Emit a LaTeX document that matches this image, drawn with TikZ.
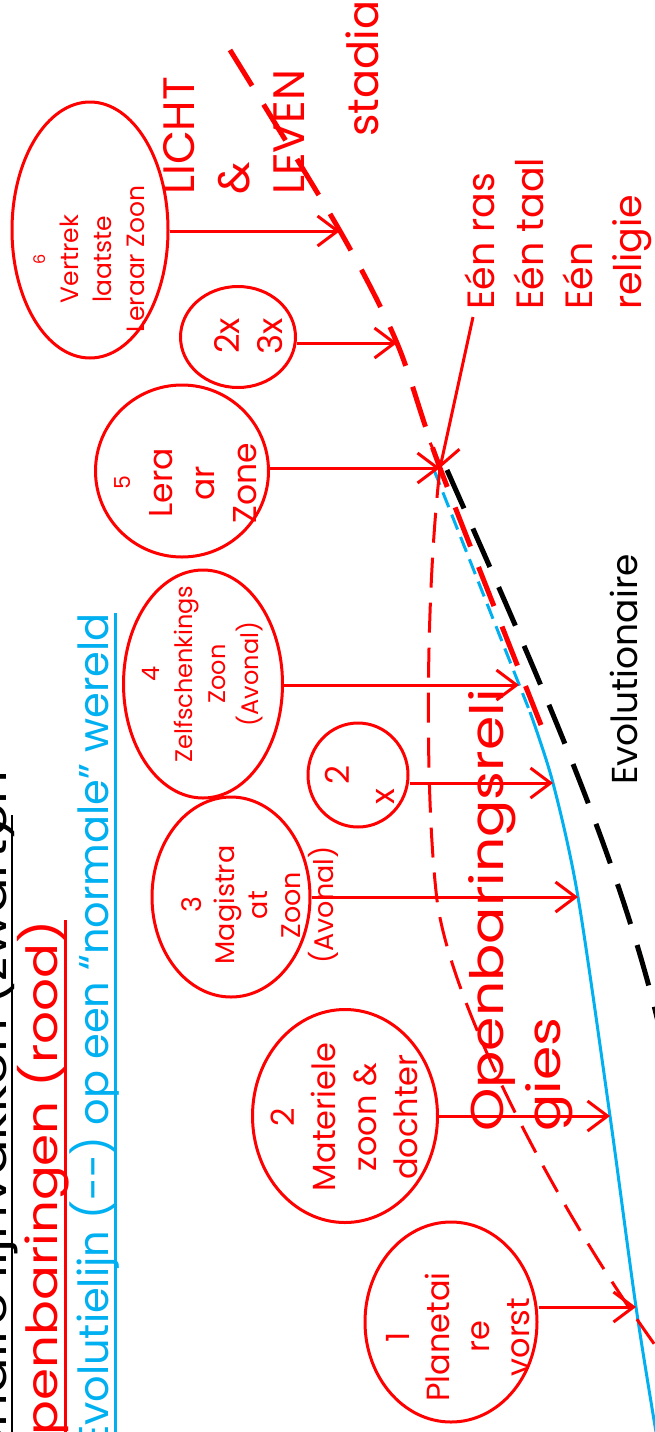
\documentclass[tikz,border=0pt]{standalone}
\usepackage{fontspec}
\setmainfont{Poppins}
\newfontfamily\pwide{Poppins}[FakeStretch=1.2]
\usetikzlibrary{shapes.geometric,arrows.meta}
\definecolor{pred}{RGB}{255,0,0}
\definecolor{pblue}{RGB}{0,176,240}
\newcommand{\setfs}[2]{\fontsize{#1}{#2}\selectfont}
\begin{document}
\begin{tikzpicture}[x=1pt,y=-1pt,
 ell/.style={draw=pred,line width=3pt,ellipse,inner sep=0pt},
 lbl/.style={rotate=90,text=pred,align=center,inner sep=0pt},
 big/.style={rotate=90,align=left,inner sep=0pt,anchor=north west},
 ttl/.style={rotate=90,inner sep=0pt,anchor=base east},
 arr/.style={pred,line width=3pt,-{Straight Barb[length=20pt,width=30pt]}},
 reddash/.style={pred,line width=5pt,dash pattern=on 42pt off 22pt},
 blackdash/.style={black,line width=5pt,dash pattern=on 42pt off 22pt},
 thindash/.style={pred,line width=3pt,dash pattern=on 30pt off 15pt},
 blueline/.style={pblue,line width=3pt}]
\fill[white] (0,0) rectangle (654,1432);
\useasboundingbox (0,0) rectangle (654,1432);
% points on the curves
\coordinate (tA) at (230,50);
\coordinate (t6) at (340,231);
\coordinate (t23) at (397,343);
\coordinate (tc) at (440,468);
\coordinate (tr) at (541,725);
\coordinate (tb0) at (434,470);
\coordinate (t4) at (519,685);
\coordinate (tb) at (530,712);
\coordinate (t2x) at (553,783);
\coordinate (t3) at (578,897);
\coordinate (tm) at (610,1116);
\coordinate (t1) at (636,1307);
\coordinate (tbe) at (656,1432);
% curves
\draw[blueline] plot[smooth,tension=0.5] coordinates {(tb) (t2x) (t3) (tm) (t1) (tbe)};
\draw[blueline,dash pattern=on 16pt off 8pt] (tb0) -- (tb);
\draw[reddash] plot[smooth,tension=0.5] coordinates {(tA) (t6) (t23) (tc) (tr)};
\draw[blackdash] (447,470) .. controls (540,680) and (620,860) .. (660,1030);
\draw[thindash] (tc) .. controls (425,600) and (425,800) .. (437,900) .. controls (450,1000) and (550,1200) .. (660,1352);
% ellipses
\node[ell,minimum width=156pt,minimum height=256pt] (e6) at (90,230) {};
\node[ell,minimum width=115pt,minimum height=101pt] (e23) at (238,337) {};
\node[ell,minimum width=173pt,minimum height=172pt] (e5) at (182,471) {};
\node[ell,minimum width=159pt,minimum height=228pt] (e4) at (203,684) {};
\node[ell,minimum width=100pt,minimum height=104pt] (e2x) at (358,775) {};
\node[ell,minimum width=158pt,minimum height=200pt] (e3) at (231,897) {};
\node[ell,minimum width=185pt,minimum height=213pt] (e2) at (345,1116) {};
\node[ell,minimum width=172pt,minimum height=200pt] (e1) at (451,1322) {};
% labels in ellipses
\node[lbl,font=\setfs{25}{33}] (l6) at (89,259) {{\setfs{16}{33}6}\\Vertrek\\laatste\\Leraar Zoon};
\node[lbl,font=\setfs{34}{43}] (l23) at (249,336) {2x\\3x};
\node[lbl,font=\setfs{33}{42}] (l5) at (186,483) {{\setfs{22}{42}5}\\Lera\\ar\\Zone};
\node[lbl,font=\setfs{24}{33}] (l4) at (203,674) {4\\Zelfschenkings\\Zoon\\(Avonal)};
\node[lbl,font=\setfs{33}{45},align=left] (l2x) at (360,785) {\hspace*{20pt}2\\x};
\node[lbl,font=\setfs{27}{33}] (l3) at (260,905) {3\\Magistra\\at\\Zoon\\(Avonal)};
\node[lbl,font=\setfs{32}{41}] (l2) at (344,1117) {2\\Materiele\\zoon \&\\dochter};
\node[lbl,font=\setfs{32}{40}] (l1) at (458,1337) {1\\Planetai\\re\\vorst};
% big labels
\node[big,text=pred,font=\setfs{44}{55}] (licht) at (163,195) {LICHT\\\&\\LEVEN};
\node[big,text=pred,font=\setfs{43}{58}] (stadia) at (346,137) {stadia};
\node[big,text=pred,font=\setfs{38}{49}] (een) at (465,310) {Eén ras\\Eén taal\\Eén\\religie};
\node[big,text=black,font=\setfs{36}{47}] (evo) at (610,785) {Evolutionaire};
\node[big,text=pred,font=\pwide\setfs{46}{57}] (openb) at (468,1132) {Openbaringsreli\\gies};
% titles
\node[ttl,font=\pwide\setfs{44}{48}] (tz) at (6,815) {Evolutionaire lijnvakken (zwart)};
\node[ttl,font=\pwide\setfs{44}{48}] (ten) at (6,770) {en};
\node[ttl,text=pred,font=\pwide\setfs{43}{48}] (tr1) at (57,920) {Openbaringen (rood)};
\node[ttl,text=pblue,font=\setfs{41.5}{48}] (tb1) at (108,613) {Evolutielijn (-{}-) op een “normale” wereld};
\draw[black,line width=2.5pt] ([xshift=6pt]tz.base west) -- ([xshift=6pt]tz.base east);
\draw[pred,line width=3pt] ([xshift=8pt]tr1.base west) -- ([xshift=8pt]tr1.base east);
\draw[pblue,line width=3pt] ([xshift=7pt]tb1.base west) -- ([xshift=7pt]tb1.base east);
% arrows
\draw[arr] (t6 -| e6.east) -- (t6);
\draw[arr] (t23 -| e23.east) -- (t23);
\draw[arr] (tc -| e5.east) -- (tc);
\draw[arr] (t4 -| e4.east) -- (t4);
\draw[arr] (t2x -| e2x.east) -- (t2x);
\draw[arr] (t3 -| e3.east) -- (t3);
\draw[arr] (tm -| e2.east) -- (tm);
\draw[arr] (t1 -| e1.east) -- (t1);
\draw[arr] ([xshift=8pt,yshift=-7pt]een.north west) -- (tc);
\end{tikzpicture}
\end{document}
